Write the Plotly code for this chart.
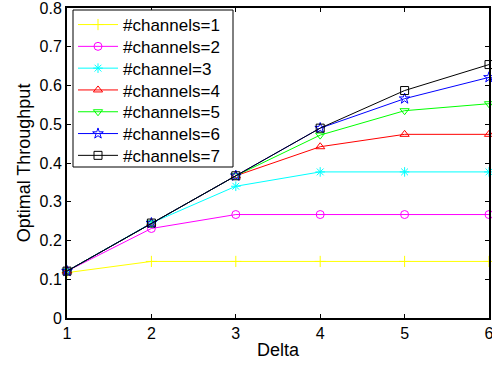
import plotly.graph_objects as go

delta = [1, 2, 3, 4, 5, 6]
names = ["#channels=1", "#channels=2", "#channel=3", "#channels=4",
         "#channels=5", "#channels=6", "#channels=7"]
ch1 = [0.117, 0.146, 0.146, 0.146, 0.146, 0.146]
ch2 = [0.121, 0.231, 0.267, 0.267, 0.267, 0.267]
ch3 = [0.121, 0.245, 0.340, 0.377, 0.377, 0.377]
ch4 = [0.121, 0.245, 0.367, 0.442, 0.474, 0.474]
ch5 = [0.121, 0.245, 0.367, 0.472, 0.535, 0.553]
ch6 = [0.121, 0.245, 0.367, 0.490, 0.566, 0.621]
ch7 = [0.121, 0.245, 0.367, 0.490, 0.587, 0.654]
yticks = [0, 0.1, 0.2, 0.3, 0.4, 0.5, 0.6, 0.7, 0.8]
ytick_labels = ["0", "0.1", "0.2", "0.3", "0.4", "0.5", "0.6", "0.7", "0.8"]
series = [ch1, ch2, ch3, ch4, ch5, ch6, ch7]
colors = ["#ffff00", "#ff00ff", "#00ffff", "#ff0000", "#00ff00", "#0000ff", "#000000"]
symbols = ["cross-thin-open", "circle-open", "asterisk-open", "triangle-up-open",
           "triangle-down-open", "star-open", "square-open"]

# layout geometry (pixels)
W, H = 492, 366
ML, MR, MT, MB = 67, 3, 8, 48
PW, PH = W - ML - MR, H - MT - MB
LEG_LEFT, LEG_RIGHT, LEG_TOP, LEG_BOTTOM = 73, 233, 10, 167
ROW0, ROW_STEP = 25, 21.8


def px_x(px):
    return (px - ML) / PW


def px_y(py):
    return (H - MB - py) / PH


font = "Liberation Sans, Arial, sans-serif"
fig = go.Figure()
legends = {}
for i, (n, s, c, m) in enumerate(zip(names, series, colors, symbols)):
    key = "legend" if i == 0 else f"legend{i + 1}"
    fig.add_trace(go.Scatter(
        x=delta, y=s, name=n, mode="lines+markers",
        line=dict(color=c, width=1),
        marker=dict(symbol=m, size=8, color=c, line=dict(color=c, width=1)),
        cliponaxis=False, legend=key,
    ))
    legends[key] = dict(
        x=px_x(LEG_LEFT), y=px_y(ROW0 + i * ROW_STEP),
        xanchor="left", yanchor="middle",
        borderwidth=0, bgcolor="rgba(0,0,0,0)",
        font=dict(size=17), itemwidth=40,
    )

fig.add_shape(type="rect", xref="paper", yref="paper",
              x0=px_x(LEG_LEFT), x1=px_x(LEG_RIGHT),
              y0=px_y(LEG_BOTTOM), y1=px_y(LEG_TOP),
              line=dict(color="black", width=1), fillcolor="white", layer="above")

fig.update_layout(
    width=W, height=H,
    margin=dict(l=ML, r=MR, t=MT, b=MB, autoexpand=False),
    paper_bgcolor="white", plot_bgcolor="white",
    font=dict(family=font, size=16, color="black"),
    showlegend=True,
    **legends,
)
fig.update_xaxes(
    range=[1, 6], tickvals=delta, ticks="inside", ticklen=4, tickcolor="black",
    showline=True, linecolor="black", linewidth=2, mirror="ticks",
    showgrid=False, zeroline=False, automargin=False,
    ticklabeloverflow="allow",
    title=dict(text="Delta", font=dict(size=18), standoff=2),
    tickfont=dict(size=16),
)
fig.update_yaxes(
    range=[0, 0.8], tickvals=yticks, ticktext=ytick_labels,
    ticks="inside", ticklen=4, tickcolor="black",
    showline=True, linecolor="black", linewidth=2, mirror="ticks",
    showgrid=False, zeroline=False, automargin=False,
    ticklabeloverflow="allow",
    title=dict(text="Optimal Throughput", font=dict(size=18), standoff=4),
    tickfont=dict(size=16),
)
fig.write_html("out.html", config={"displayModeBar": False},
               post_script="document.body.style.margin='0';document.body.style.padding='0';")
